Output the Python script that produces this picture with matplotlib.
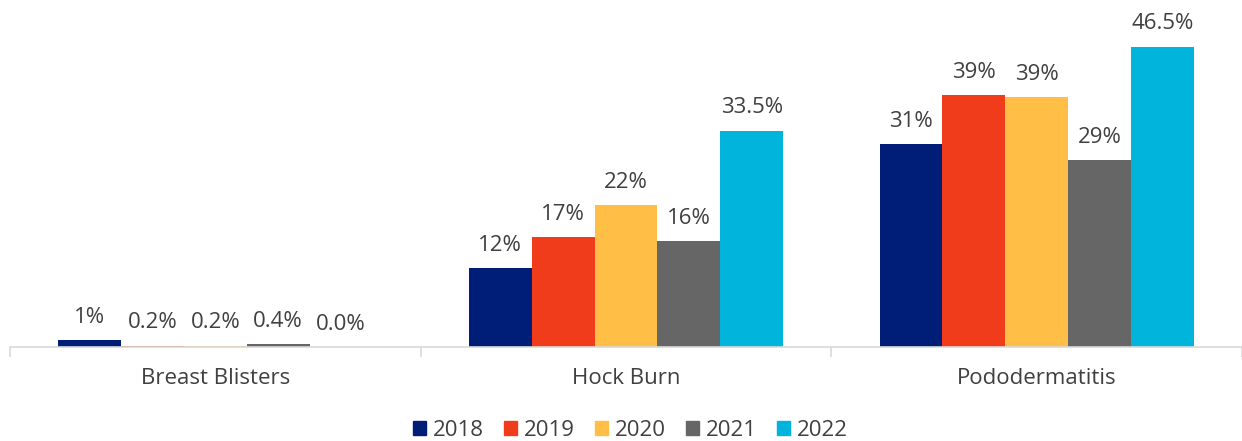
import numpy as np
import matplotlib.pyplot as plt
from matplotlib.patches import Patch

plt.rcParams['font.family'] = ['Open Sans', 'DejaVu Sans']

categories = ['Breast Blisters', 'Hock Burn', 'Pododermatitis']
years = ['2018', '2019', '2020', '2021', '2022']
colors = ['#001E78', '#F03C1A', '#FFBE46', '#666666', '#00B4DC']

v2018 = [1.1, 12.2, 31.4]
v2019 = [0.2, 17.0, 39.0]
v2020 = [0.2, 22.0, 38.7]
v2021 = [0.4, 16.4, 28.9]
v2022 = [0.0, 33.5, 46.5]
values = [v2018, v2019, v2020, v2021, v2022]

lab2018 = ['1%', '12%', '31%']
lab2019 = ['0.2%', '17%', '39%']
lab2020 = ['0.2%', '22%', '39%']
lab2021 = ['0.4%', '16%', '29%']
lab2022 = ['0.0%', '33.5%', '46.5%']
labels = [lab2018, lab2019, lab2020, lab2021, lab2022]

fig = plt.figure(figsize=(12.42, 4.41), dpi=100)
ax = fig.add_axes([10/1242, 1-347/441, 1-10/1242, 323/441])

x = np.arange(len(categories))
w = 0.153
text_col = '#404040'
for i in range(len(years)):
    pos = x + (i - 2) * w
    bars = ax.bar(pos, values[i], w, color=colors[i], label=years[i])
    for b, lab in zip(bars, labels[i]):
        ax.text(b.get_x() + w/2, b.get_height() + 1.9, lab, ha='center', va='bottom',
                fontsize=16, color=text_col)

ax.set_xlim(-0.5, 2.5)
ax.set_ylim(0, 50)
ax.set_yticks([])
for s in ['top', 'right', 'left']:
    ax.spines[s].set_visible(False)
ax.spines['bottom'].set_color('#d9d9d9')
ax.spines['bottom'].set_linewidth(1.2)
ax.set_xticks([-0.5, 0.5, 1.5, 2.5])
ax.set_xticklabels([])
ax.tick_params(axis='x', length=7, color='#d9d9d9', width=1.2)
for xi, c in zip(x, categories):
    ax.text(xi, -3.3, c, ha='center', va='top', fontsize=16, color=text_col)

handles = [Patch(color=c, label=y) for c, y in zip(colors, years)]
fig.legend(handles=handles, loc='center', bbox_to_anchor=(630/1242, 1-430/441), ncol=5,
           frameon=False, fontsize=16, labelcolor=text_col, handlelength=0.6,
           handleheight=0.6, handletextpad=0.3, columnspacing=0.9)

fig.savefig('out.png', dpi=100)
